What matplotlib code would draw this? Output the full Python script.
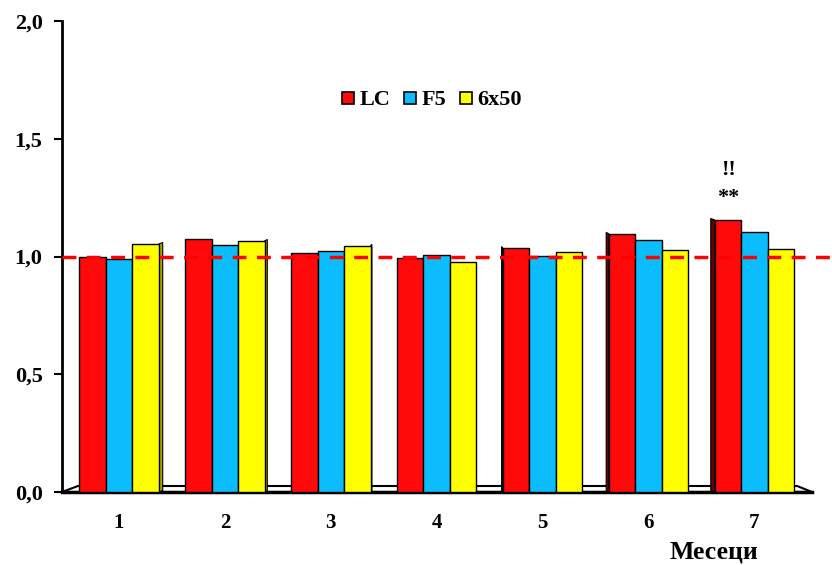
import numpy as np
import matplotlib.pyplot as plt
from matplotlib.patches import Polygon
from matplotlib.lines import Line2D

months = ["1", "2", "3", "4", "5", "6", "7"]
series_names = ["LC", "F5", "6x50"]
lc = [1.00, 1.074, 1.015, 0.994, 1.036, 1.096, 1.155]
f5 = [0.99, 1.049, 1.023, 1.006, 1.002, 1.070, 1.104]
x6x50 = [1.053, 1.066, 1.045, 0.977, 1.019, 1.028, 1.032]
colors = ["#FF0A0A", "#0BBDFD", "#FFFF00"]
side_colors = ["#6A0000", "#05648A", "#A8A800"]
yticks = [0.0, 0.5, 1.0, 1.5, 2.0]
ref_level = 1.0

plt.rcParams['font.family'] = ['Liberation Serif', 'DejaVu Serif']
plt.rcParams['font.weight'] = 'bold'

fig = plt.figure(figsize=(8.32, 5.65), dpi=100)
ax = fig.add_axes([62 / 832, 73 / 565, 750 / 832, 471 / 565])
ax.set_xlim(-0.538, 6.543)
ax.set_ylim(0, 2.0)

px_x = 1 / 105.9   # data units per pixel, x
px_y = 2.0 / 471   # data units per pixel, y

# floor of the 3d box
floor = Polygon([(-0.538, 0), (6.543, 0), (6.403, 6 * px_y), (-0.387, 6 * px_y)],
                closed=True, facecolor="white", edgecolor="black", lw=1.5,
                clip_on=False, zorder=1)
ax.add_patch(floor)
ax.plot([-0.538, 6.543], [0, 0], color="black", lw=2.5, clip_on=False, zorder=2)

x = np.arange(len(months))
w = 0.25
data = [lc, f5, x6x50]
for k, vals in enumerate(data):
    xs = x + (k - 1) * w
    ax.bar(xs, vals, width=w, color=colors[k], edgecolor="black", lw=1.0, zorder=3)
    for i, v in enumerate(vals):
        d = (i - 3) * 4 / 3 * px_x
        if d == 0:
            continue
        if d < 0 and k == 2:
            # right side of rightmost bar for left groups
            xr = xs[i] + w / 2
            pts = [(xr, 0), (xr - d, 1.5 * px_y), (xr - d, v + 1.5 * px_y), (xr, v)]
        elif d > 0 and k == 0:
            xl = xs[i] - w / 2
            pts = [(xl, 0), (xl - d, 1.5 * px_y), (xl - d, v + 1.5 * px_y), (xl, v)]
        else:
            continue
        ax.add_patch(Polygon(pts, closed=True, facecolor=side_colors[k],
                             edgecolor="black", lw=0.8, zorder=2.5))

ax.plot([-0.538, 6.85], [ref_level, ref_level], color="#FF0000", lw=2.5,
        ls=(0, (4, 3)), clip_on=False, zorder=5)

ax.text(5.75, 1.367, "!!", ha="center", va="center", fontsize=16, fontweight="bold")
ax.text(5.75, 1.25, "**", ha="center", va="center", fontsize=16, fontweight="bold")

for s in ["top", "right", "bottom"]:
    ax.spines[s].set_visible(False)
ax.spines["left"].set_linewidth(2)
ax.set_yticks(yticks)
ax.set_yticklabels([f"{t:.1f}".replace(".", ",") for t in yticks], fontsize=16, fontweight="bold")
ax.tick_params(axis="y", direction="out", length=6, width=1.5, pad=8)
ax.set_xticks(x)
ax.set_xticklabels(months, fontsize=15, fontweight="bold")
ax.tick_params(axis="x", length=0, pad=15)

fig.text(714 / 832, 1 - 552 / 565, "Месеци", ha="center", va="center",
         fontsize=18.5, fontweight="bold")

handles = [Line2D([0], [0], marker="s", ls="none", markersize=9,
                  markerfacecolor=c, markeredgecolor="black", markeredgewidth=1.2)
           for c in colors]
ax.legend(handles, series_names, loc="center left", bbox_to_anchor=(0.372, 0.832),
          ncol=3, frameon=False, handlelength=0.6, handletextpad=0.25,
          columnspacing=0.55, borderpad=0, borderaxespad=0,
          prop={"size": 16, "weight": "bold"})

fig.savefig("out.png", dpi=100)
